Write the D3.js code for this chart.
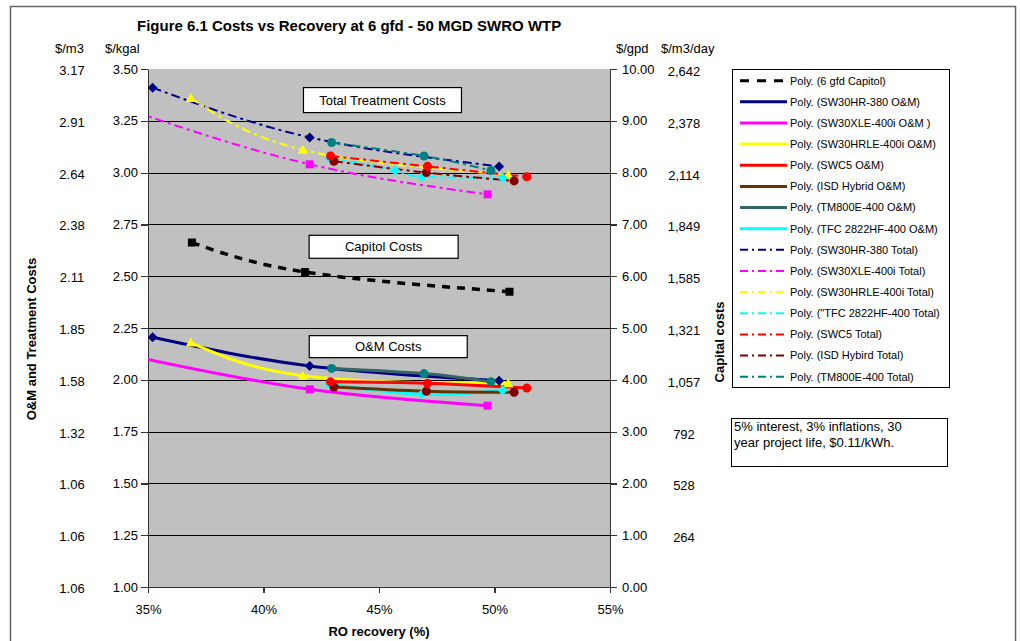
<!DOCTYPE html>
<meta charset="utf-8">
<title>Figure 6.1 Costs vs Recovery at 6 gfd - 50 MGD SWRO WTP</title>
<style>

body {
  margin: 0;
  background: #fff;
}

svg text {
  font-family: "Liberation Sans", Arial, sans-serif;
  fill: #000;
}

.axis text {
  font-size: 13px;
}

.axis path,
.axis line {
  fill: none;
  stroke: #333;
  stroke-width: 1.2px;
  shape-rendering: crispEdges;
}

.unit, .extra {
  font-size: 13px;
}

.axislabel {
  font-size: 13px;
  font-weight: bold;
}

.legend text {
  font-size: 11px;
}

.note text, .tag text {
  font-size: 13px;
}

</style>
<svg class="chart" width="1020" height="641"></svg>

<script src="https://d3js.org/d3.v7.min.js"></script>
<script>

// RO recovery (%) and cost values
var capitolX = [36.9, 41.8, 50.65],
    capitolY = [6.65, 6.08, 5.70];           // $/gpd, right axis

var hr380X = [35.2, 42.0, 50.2],
    hr380Om = [2.205, 2.067, 1.996],
    hr380Total = [3.41, 3.17, 3.03];

var xleX = [34.5, 42.0, 49.7],
    xleOm = [2.11, 1.954, 1.875],
    xleTotal = [3.29, 3.04, 2.895];

var hrleX = [36.85, 41.7, 50.6],
    hrleOm = [2.18, 2.02, 1.983],
    hrleTotal = [3.36, 3.11, 2.99];

var swc5X = [42.9, 47.1, 51.4],
    swc5Om = [1.99, 1.983, 1.96],
    swc5Total = [3.08, 3.03, 2.98];

var isdX = [43.05, 47.05, 50.85],
    isdOm = [1.965, 1.945, 1.94],
    isdTotal = [3.055, 3.0, 2.96];

var tmX = [42.95, 46.95, 49.85],
    tmOm = [2.055, 2.03, 1.99],
    tmTotal = [3.145, 3.08, 3.01];

var tfcOmX = [42.85, 46.85, 50.35],
    tfcOm = [1.978, 1.93, 1.95];
var tfcTotalX = [42.85, 45.7, 46.85, 50.35],
    tfcTotal = [3.07, 3.01, 2.98, 2.975];

var xTicks = [35, 40, 45, 50, 55];
var kgalTicks = [1.00, 1.25, 1.50, 1.75, 2.00, 2.25, 2.50, 2.75, 3.00, 3.25, 3.50];
var m3Labels = ["1.06", "1.06", "1.06", "1.32", "1.58", "1.85", "2.11", "2.38", "2.64", "2.91", "3.17"];
var gpdTicks = [0, 1, 2, 3, 4, 5, 6, 7, 8, 9, 10];
var m3dayLabels = ["", "264", "528", "792", "1,057", "1,321", "1,585", "1,849", "2,114", "2,378", "2,642"];

var legendLabels = [
  "Poly. (6 gfd Capitol)",
  "Poly. (SW30HR-380 O&M)",
  "Poly. (SW30XLE-400i O&M )",
  "Poly. (SW30HRLE-400i O&M)",
  "Poly. (SWC5 O&M)",
  "Poly. (ISD Hybrid O&M)",
  "Poly. (TM800E-400 O&M)",
  "Poly. (TFC 2822HF-400 O&M)",
  "Poly. (SW30HR-380 Total)",
  "Poly. (SW30XLE-400i Total)",
  "Poly. (SW30HRLE-400i Total)",
  "Poly. (\"TFC 2822HF-400 Total)",
  "Poly. (SWC5 Total)",
  "Poly. (ISD Hybird Total)",
  "Poly. (TM800E-400 Total)"
];

var DASHED = "8,7", DASHDOT = "9,4,3,4";

// series table, same order as the legend
var series = [
  {xs: capitolX, ys: capitolY, axis: "right", color: "#000", marker: "square", markColor: "#000", width: 3.5, dash: DASHED},
  {xs: hr380X, ys: hr380Om, color: "#000080", marker: "diamond", markColor: "#000080", width: 3},
  {xs: xleX, ys: xleOm, color: "#ff00ff", marker: "square", markColor: "#ff00ff", width: 3},
  {xs: hrleX, ys: hrleOm, color: "#ffff00", marker: "triangle", markColor: "#ffff00", width: 3},
  {xs: swc5X, ys: swc5Om, color: "#ff0000", marker: "circle", markColor: "#ff0000", width: 3},
  {xs: isdX, ys: isdOm, color: "#663300", marker: "circle", markColor: "#800000", width: 3},
  {xs: tmX, ys: tmOm, color: "#336666", marker: "circle", markColor: "#008080", width: 3},
  {xs: tfcOmX, ys: tfcOm, color: "#00ffff", marker: "diamond", markColor: "#00ffff", width: 3},
  {xs: hr380X, ys: hr380Total, color: "#000080", marker: "diamond", markColor: "#000080", width: 2, dash: DASHDOT},
  {xs: xleX, ys: xleTotal, color: "#ff00ff", marker: "square", markColor: "#ff00ff", width: 2, dash: DASHDOT},
  {xs: hrleX, ys: hrleTotal, color: "#ffff00", marker: "triangle", markColor: "#ffff00", width: 2, dash: DASHDOT},
  {xs: tfcTotalX, ys: tfcTotal, color: "#00ffff", marker: "diamond", markColor: "#00ffff", width: 2, dash: DASHDOT},
  {xs: swc5X, ys: swc5Total, color: "#ff0000", marker: "circle", markColor: "#ff0000", width: 2, dash: DASHDOT},
  {xs: isdX, ys: isdTotal, color: "#800000", marker: "circle", markColor: "#800000", width: 2, dash: DASHDOT},
  {xs: tmX, ys: tmTotal, color: "#008080", marker: "circle", markColor: "#008080", width: 2, dash: DASHDOT}
];

var plot = {left: 148, right: 610, top: 69, bottom: 587};

var x = d3.scaleLinear().domain([35, 55]).range([plot.left, plot.right]);
var y = d3.scaleLinear().domain([1, 3.5]).range([plot.bottom, plot.top]);
var yCap = d3.scaleLinear().domain([0, 10]).range([plot.bottom, plot.top]);

var svg = d3.select(".chart");

// outer frame of the figure
svg.append("rect")
    .attr("x", 10.5).attr("y", 6.5)
    .attr("width", 1005).attr("height", 700)
    .attr("fill", "none")
    .attr("stroke", "#666")
    .attr("stroke-width", 1.5);

svg.append("text")
    .attr("x", 137).attr("y", 31)
    .style("font-size", "15px")
    .style("font-weight", "bold")
    .text("Figure 6.1 Costs vs Recovery at 6 gfd - 50 MGD SWRO WTP");

svg.append("rect")
    .attr("x", plot.left).attr("y", plot.top)
    .attr("width", plot.right - plot.left)
    .attr("height", plot.bottom - plot.top)
    .attr("fill", "#c0c0c0");

svg.append("clipPath").attr("id", "clip")
  .append("rect")
    .attr("x", plot.left).attr("y", plot.top)
    .attr("width", plot.right - plot.left)
    .attr("height", plot.bottom - plot.top);

// gridlines
svg.append("g")
  .selectAll("line")
  .data(kgalTicks.slice(1, -1))
  .enter().append("line")
    .attr("x1", plot.left).attr("x2", plot.right)
    .attr("y1", function(d) { return Math.round(y(d)) + 0.5; })
    .attr("y2", function(d) { return Math.round(y(d)) + 0.5; })
    .attr("stroke", "#000")
    .attr("stroke-width", 1);

svg.append("g")
    .attr("class", "x axis")
    .attr("transform", "translate(0," + plot.bottom + ")")
    .call(d3.axisBottom(x).tickValues(xTicks)
      .tickFormat(function(d) { return d + "%"; })
      .tickSize(6).tickSizeOuter(0).tickPadding(12));

svg.append("g")
    .attr("class", "y axis")
    .attr("transform", "translate(" + plot.left + ",0)")
    .call(d3.axisLeft(y).tickValues(kgalTicks)
      .tickFormat(d3.format(".2f"))
      .tickSize(7).tickSizeOuter(0));

svg.append("g")
    .attr("class", "y axis")
    .attr("transform", "translate(" + plot.right + ",0)")
    .call(d3.axisRight(yCap).tickValues(gpdTicks)
      .tickFormat(d3.format(".2f"))
      .tickSize(7).tickSizeOuter(0).tickPadding(5));

// second unit columns
svg.append("g").selectAll("text")
    .data(kgalTicks)
    .enter().append("text")
    .attr("class", "extra")
    .attr("x", 72)
    .attr("y", function(d, i) { return y(d) + 6; })
    .style("text-anchor", "middle")
    .text(function(d, i) { return m3Labels[i]; });

svg.append("g").selectAll("text")
    .data(gpdTicks)
    .enter().append("text")
    .attr("class", "extra")
    .attr("x", 684)
    .attr("y", function(d) { return yCap(d) + 7; })
    .style("text-anchor", "middle")
    .text(function(d, i) { return m3dayLabels[i]; });

svg.append("text").attr("class", "unit").attr("x", 55).attr("y", 53).text("$/m3");
svg.append("text").attr("class", "unit").attr("x", 105).attr("y", 53).text("$/kgal");
svg.append("text").attr("class", "unit").attr("x", 616).attr("y", 53).text("$/gpd");
svg.append("text").attr("class", "unit").attr("x", 661).attr("y", 53).text("$/m3/day");

svg.append("text")
    .attr("class", "axislabel")
    .attr("x", (plot.left + plot.right) / 2)
    .attr("y", 636)
    .style("text-anchor", "middle")
    .text("RO recovery (%)");

svg.append("text")
    .attr("class", "axislabel")
    .attr("transform", "translate(36,339) rotate(-90)")
    .style("text-anchor", "middle")
    .text("O&M and Treatment Costs");

svg.append("text")
    .attr("class", "axislabel")
    .attr("transform", "translate(724,342) rotate(-90)")
    .style("text-anchor", "middle")
    .text("Capital costs");

// callout boxes
var tags = [
  {text: "Total Treatment Costs", cx: 45.15, cy: 3.35, w: 158, h: 25},
  {text: "Capitol Costs", cx: 45.2, cy: 2.642, w: 149, h: 23},
  {text: "O&M Costs", cx: 45.4, cy: 2.16, w: 158, h: 22}
];

var tag = svg.append("g").attr("class", "tag")
  .selectAll("g")
  .data(tags)
  .enter().append("g")
    .attr("transform", function(d) { return "translate(" + x(d.cx) + "," + y(d.cy) + ")"; });

tag.append("rect")
    .attr("x", function(d) { return -d.w / 2; })
    .attr("y", function(d) { return -d.h / 2; })
    .attr("width", function(d) { return d.w; })
    .attr("height", function(d) { return d.h; })
    .attr("fill", "#fff")
    .attr("stroke", "#000")
    .attr("stroke-width", 1.2);

tag.append("text")
    .attr("dy", "0.35em")
    .style("text-anchor", "middle")
    .text(function(d) { return d.text; });

// trendlines and markers
var area = svg.append("g").attr("clip-path", "url(#clip)");

function yScale(s) { return s.axis === "right" ? yCap : y; }

var line = function(s) {
  var ys = yScale(s);
  return d3.line()
      .x(function(d) { return x(d[0]); })
      .y(function(d) { return ys(d[1]); })
      .curve(d3.curveNatural)(d3.zip(s.xs, s.ys));
};

var shapes = {
  diamond: "M0,-5L5,0L0,5L-5,0Z",
  square: "M-4,-4H4V4H-4Z",
  triangle: "M0,-5L5,4L-5,4Z",
  circle: d3.symbol(d3.symbolCircle, 64)()
};

var drawOrder = [0, 1, 2, 3, 7, 5, 6, 4, 8, 9, 10, 11, 13, 12, 14];

drawOrder.forEach(function(k) {
  var s = series[k];
  area.append("path")
      .attr("d", line(s))
      .attr("fill", "none")
      .attr("stroke", s.color)
      .attr("stroke-width", s.width)
      .attr("stroke-dasharray", s.dash || null);
});

drawOrder.forEach(function(k) {
  var s = series[k], ys = yScale(s);
  area.selectAll(null)
      .data(d3.zip(s.xs, s.ys))
      .enter().append("path")
      .attr("d", shapes[s.marker])
      .attr("transform", function(d) { return "translate(" + x(d[0]) + "," + ys(d[1]) + ")"; })
      .attr("fill", s.markColor);
});

// legend
var legend = svg.append("g").attr("class", "legend")
    .attr("transform", "translate(732,69)");

legend.append("rect")
    .attr("x", 0.5).attr("y", 0.5)
    .attr("width", 217).attr("height", 318)
    .attr("fill", "#fff")
    .attr("stroke", "#000");

var item = legend.selectAll(".item")
    .data(series)
    .enter().append("g")
    .attr("class", "item")
    .attr("transform", function(d, i) { return "translate(0," + (11.7 + i * 21.14) + ")"; });

item.append("line")
    .attr("x1", 8).attr("x2", 55)
    .attr("stroke", function(d) { return d.color; })
    .attr("stroke-width", function(d, i) { return i === 0 ? 3 : (d.dash ? 2 : 3); })
    .attr("stroke-dasharray", function(d, i) { return i === 0 ? "9,8" : (d.dash ? "8,4,2,4" : null); });

item.append("text")
    .attr("x", 58)
    .attr("dy", "0.35em")
    .text(function(d, i) { return legendLabels[i]; });

// assumptions note
var note = svg.append("g").attr("class", "note")
    .attr("transform", "translate(731,418)");

note.append("rect")
    .attr("x", 0.5).attr("y", 0.5)
    .attr("width", 216).attr("height", 48)
    .attr("fill", "#fff")
    .attr("stroke", "#000");

note.append("text").attr("x", 3).attr("y", 13).text("5% interest, 3% inflations, 30");
note.append("text").attr("x", 3).attr("y", 29).text("year project life, $0.11/kWh.");

</script>
